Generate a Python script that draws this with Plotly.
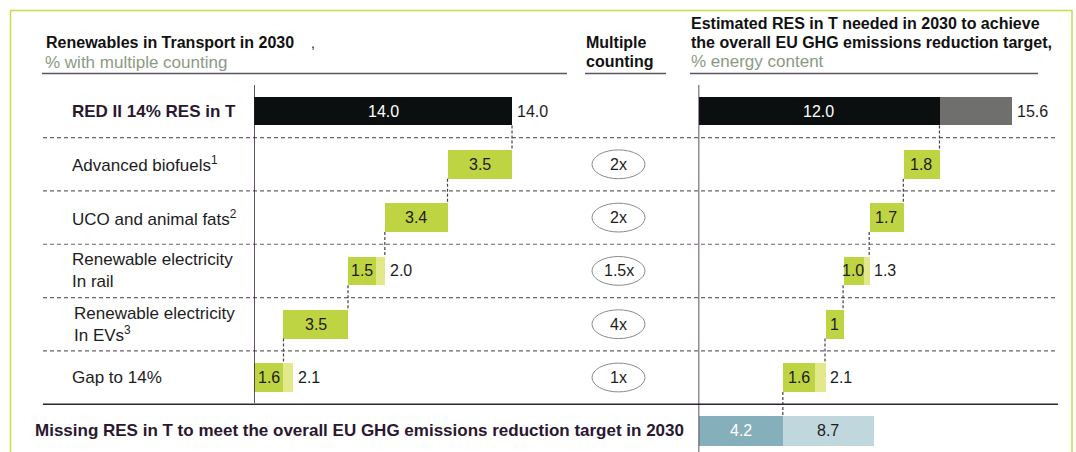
import plotly.graph_objects as go

# ---------------- data ----------------
row_labels = [
    "RED II 14% RES in T",
    "Advanced biofuels<sup>1</sup>",
    "UCO and animal fats<sup>2</sup>",
    "Renewable electricity<br>In rail",
    "Renewable electricity<br>In EVs<sup>3</sup>",
    "Gap to 14%",
]
multipliers = ["2x", "2x", "1.5x", "4x", "1x"]

left_total = [14.0, 3.5, 3.4, 2.0, 3.5, 2.1]
left_core = [14.0, 3.5, 3.4, 1.5, 3.5, 1.6]
left_inside = ["14.0", "3.5", "3.4", "1.5", "3.5", "1.6"]
left_outside = ["14.0", "", "", "2.0", "", "2.1"]

right_total = [15.6, 1.8, 1.7, 1.3, 0.9, 2.1]
right_core = [12.0, 1.8, 1.7, 1.0, 0.9, 1.6]
right_inside = ["12.0", "1.8", "1.7", "1.0", "1", "1.6"]
right_outside = ["15.6", "", "", "1.3", "", "2.1"]

missing_core = 4.2
missing_total = 8.7
missing_labels = ["4.2", "8.7"]
missing_text = "Missing RES in T to meet the overall EU GHG emissions reduction target in 2030"

left_title = "Renewables in Transport in 2030"
left_sub = "% with multiple counting"
mid_title = ["Multiple", "counting"]
right_title = ["Estimated RES in T needed in 2030 to achieve",
               "the overall EU GHG emissions reduction target,"]
right_sub = "% energy content"

# ---------------- style ----------------
W, H = 1076, 452
FONT = "Liberation Sans, Arial, sans-serif"
BLACK = "#0b0f0f"
GREY = "#6f706e"
GREEN = "#bed442"
LIGHT_GREEN = "#e3e98b"
TEAL = "#86afbc"
LIGHT_TEAL = "#c1d7de"
FRAME = "#c9dd45"
SUBCOL = "#8c9a84"
PURPLE = "#2a1830"
TXT = "#1c1c1c"

ROW0_PX, ROW_DY = 111, 53.3
BAR_W, BOTTOM_W = 0.54, 0.57
L0, LS = 254, 18.43      # left axis origin px, px per unit
R0, RS = 698.5, 20.08    # right axis origin px, px per unit
L1, R1 = 570, 1062


def px(x):
    return x / W


def py(y):
    return 1 - y / H


def waterfall(totals, cores, gap_from_axis):
    bases = [0.0]
    running = cores[0]
    conn = [running]
    for t in totals[1:-1]:
        running = round(running - t, 3)
        bases.append(running)
        conn.append(running)
    if gap_from_axis:
        bases.append(0.0)
    else:
        bases.append(round(running - totals[-1], 3))
    return bases, conn


left_base, left_conn = waterfall(left_total, left_core, True)
right_base, right_conn = waterfall(right_total, right_core, False)
rows = list(range(len(row_labels)))

fig = go.Figure()


def add_bars(xa, totals, cores, bases, light0, core0):
    light_cols = [light0] + [LIGHT_GREEN] * (len(rows) - 1)
    core_cols = [core0] + [GREEN] * (len(rows) - 1)
    fig.add_trace(go.Bar(y=rows, x=totals, base=bases, orientation="h", width=BAR_W,
                         marker=dict(color=light_cols, line=dict(width=0)),
                         xaxis=xa, yaxis="y", hoverinfo="skip", textposition="none"))
    fig.add_trace(go.Bar(y=rows, x=cores, base=bases, orientation="h", width=BAR_W,
                         marker=dict(color=core_cols, line=dict(width=0)),
                         xaxis=xa, yaxis="y", hoverinfo="skip", textposition="none"))


add_bars("x", left_total, left_core, left_base, BLACK, BLACK)
add_bars("x2", right_total, right_core, right_base, GREY, BLACK)

bottom_row = len(rows)
fig.add_trace(go.Bar(y=[bottom_row], x=[missing_total], base=[0], orientation="h", width=BOTTOM_W,
                     marker=dict(color=LIGHT_TEAL, line=dict(width=0)), xaxis="x2", yaxis="y",
                     hoverinfo="skip", textposition="none"))
fig.add_trace(go.Bar(y=[bottom_row], x=[missing_core], base=[0], orientation="h", width=BOTTOM_W,
                     marker=dict(color=TEAL, line=dict(width=0)), xaxis="x2", yaxis="y",
                     hoverinfo="skip", textposition="none"))

ann = []
shapes = []

# value labels
for xr, totals, cores, bases, ins, outs in [
    ("x", left_total, left_core, left_base, left_inside, left_outside),
    ("x2", right_total, right_core, right_base, right_inside, right_outside),
]:
    for i in rows:
        ann.append(dict(x=bases[i] + cores[i] / 2, y=i, xref=xr, yref="y", text=ins[i],
                        showarrow=False, xanchor="center", yanchor="middle",
                        font=dict(size=16, color="white" if i == 0 else TXT, family=FONT)))
        if outs[i]:
            ann.append(dict(x=bases[i] + totals[i], y=i, xref=xr, yref="y", text=outs[i],
                            showarrow=False, xanchor="left", yanchor="middle", xshift=3,
                            font=dict(size=16, color=TXT, family=FONT)))

ann.append(dict(x=missing_core / 2, y=bottom_row, xref="x2", yref="y", text=missing_labels[0],
                showarrow=False, font=dict(size=16, color="white", family=FONT)))
ann.append(dict(x=(missing_core + missing_total) / 2, y=bottom_row, xref="x2", yref="y",
                text=missing_labels[1], showarrow=False, font=dict(size=16, color=TXT, family=FONT)))

# connectors
CONN = dict(color="#4a3d4e", width=1.2, dash="3px,2px")
for xr, conn in [("x", left_conn), ("x2", right_conn)]:
    for i, xv in enumerate(conn):
        shapes.append(dict(type="line", xref=xr, yref="y", x0=xv, x1=xv,
                           y0=i + BAR_W / 2, y1=i + 1 - BAR_W / 2, line=CONN))
shapes.append(dict(type="line", xref="x2", yref="y", x0=missing_core, x1=missing_core,
                   y0=bottom_row - 1 + BAR_W / 2, y1=bottom_row - BOTTOM_W / 2, line=CONN))

# row separators
for i in rows[:-1]:
    shapes.append(dict(type="line", xref="paper", yref="y", x0=px(43), x1=px(1058),
                       y0=i + 0.5, y1=i + 0.5, layer="below",
                       line=dict(color="#6d6270", width=1.2, dash="4px,3px")))
shapes.append(dict(type="line", xref="paper", yref="y", x0=px(43), x1=px(1058),
                   y0=rows[-1] + 0.5, y1=rows[-1] + 0.5, line=dict(color="#2c2530", width=1.5)))

# axis lines
shapes.append(dict(type="line", xref="x", yref="paper", x0=0, x1=0, y0=py(85), y1=py(403),
                   line=dict(color="#2c1a30", width=1.5)))
shapes.append(dict(type="line", xref="x2", yref="paper", x0=0, x1=0, y0=py(85), y1=py(460),
                   line=dict(color="#2c1a30", width=1.5)))

# header underlines
for x0, x1 in [(42, 567), (585, 666), (690, 1038)]:
    shapes.append(dict(type="line", xref="paper", yref="paper", x0=px(x0), x1=px(x1),
                       y0=py(73.5), y1=py(73.5), line=dict(color="#5c5560", width=1.5)))

# frame
shapes.append(dict(type="rect", xref="paper", yref="paper", x0=px(10.5), x1=px(1072),
                   y0=py(480), y1=py(10.5), line=dict(color=FRAME, width=1.5), layer="below"))

# multiplier ellipses
for k, m in enumerate(multipliers):
    r = k + 1
    shapes.append(dict(type="circle", xref="paper", yref="y", x0=px(592), x1=px(645),
                       y0=r - 0.27, y1=r + 0.27, line=dict(color="#8a8a8a", width=1),
                       fillcolor="white"))
    ann.append(dict(x=px(618.5), y=r, xref="paper", yref="y", text=m, showarrow=False,
                    xanchor="center", yanchor="middle", font=dict(size=16, color=TXT, family=FONT)))

# row labels
for i in rows:
    if i == 0:
        ann.append(dict(x=px(70), y=i, xref="paper", yref="y", text="<b>" + row_labels[i] + "</b>",
                        showarrow=False, xanchor="left", yanchor="middle",
                        font=dict(size=17, color=PURPLE, family=FONT)))
    else:
        ann.append(dict(x=px(72 if i == 4 else 70), y=i, xref="paper", yref="y", text=row_labels[i],
                        showarrow=False, xanchor="left", yanchor="middle", align="left",
                        font=dict(size=17, color=TXT, family=FONT)))

ann.append(dict(x=px(33), y=bottom_row, xref="paper", yref="y", text="<b>" + missing_text + "</b>",
                showarrow=False, xanchor="left", yanchor="middle",
                font=dict(size=17, color=PURPLE, family=FONT)))


def head(x, y, text, size=16, color="#111111", bold=True):
    ann.append(dict(x=px(x), y=py(y), xref="paper", yref="paper",
                    text=("<b>%s</b>" % text) if bold else text, showarrow=False,
                    xanchor="left", yanchor="middle", font=dict(size=size, color=color, family=FONT)))


head(44, 43, left_title)
head(309, 43, ",", bold=False, size=14)
head(43, 63, left_sub, size=17, color=SUBCOL, bold=False)
head(584, 43, mid_title[0])
head(584, 62, mid_title[1])
head(689, 24, right_title[0])
head(689, 43, right_title[1])
head(689, 62, right_sub, size=17, color=SUBCOL, bold=False)

fig.update_layout(
    width=W, height=H, margin=dict(l=0, r=0, t=0, b=0),
    paper_bgcolor="white", plot_bgcolor="rgba(0,0,0,0)",
    barmode="overlay", showlegend=False, bargap=0,
    xaxis=dict(domain=[px(L0), px(L1)], range=[0, (L1 - L0) / LS], visible=False, fixedrange=True),
    xaxis2=dict(domain=[px(R0), px(R1)], range=[0, (R1 - R0) / RS], visible=False,
                anchor="y", fixedrange=True),
    yaxis=dict(domain=[0, 1], range=[(H - ROW0_PX) / ROW_DY, -ROW0_PX / ROW_DY],
               visible=False, fixedrange=True),
    shapes=shapes, annotations=ann,
)

fig.write_html(
    "out.html",
    config={"displayModeBar": False},
    post_script="document.body.style.margin='0';document.body.style.overflow='hidden';",
)
